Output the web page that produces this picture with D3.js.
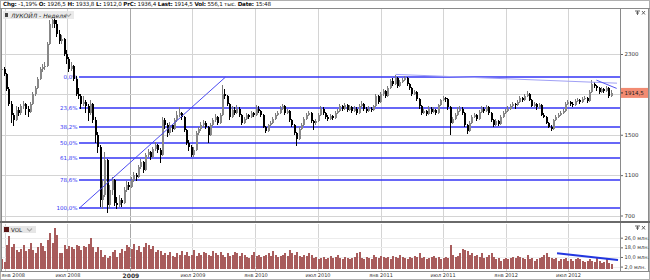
<!DOCTYPE html>
<html>
<head>
<meta charset="utf-8">
<script src="https://cdn.jsdelivr.net/npm/d3@7/dist/d3.min.js"></script>
<style>
  body { margin: 0; background: #fff; }
  svg { display: block; font-family: "DejaVu Sans", Verdana, sans-serif; }
</style>
</head>
<body>
<div id="chart"></div>
<script>
// weekly candles, first week starts 17 Dec 2007
const firstWeek = new Date(2007, 11, 17);

// [open, high, low, close]
const ohlc = [
  // 0
  [2100,2180,2080,2140],[2140,2190,2110,2150],[2150,2170,2080,2100],[2100,2110,1930,1950],[1950,1970,1780,1800],
  [1800,1830,1620,1700],[1700,1720,1590,1650],[1650,1780,1640,1750],[1750,1770,1690,1720],[1720,1800,1700,1780],
  // 10
  [1780,1830,1760,1800],[1800,1810,1700,1760],[1760,1780,1680,1730],[1730,1820,1720,1800],[1800,1920,1790,1900],
  [1900,1980,1880,1960],[1960,2070,1950,2050],[2050,2170,2040,2150],[2150,2200,2120,2170],[2170,2220,2140,2180],
  // 20
  [2180,2420,2170,2400],[2400,2640,2390,2600],[2600,2660,2560,2640],[2640,2670,2560,2600],[2600,2640,2470,2500],
  [2500,2540,2400,2430],[2430,2490,2400,2450],[2450,2460,2280,2300],[2300,2340,2200,2250],[2250,2270,2120,2150],
  // 30
  [2150,2220,2130,2180],[2180,2190,2030,2050],[2050,2080,1880,1900],[1900,1960,1850,1880],[1880,1900,1760,1800],
  [1800,1880,1780,1820],[1820,1840,1720,1780],[1780,1800,1640,1720],[1720,1840,1700,1800],[1800,1810,1620,1650],
  // 40
  [1650,1680,1420,1500],[1500,1530,1315,1380],[1380,1400,780,850],[850,1050,760,900],[900,1330,880,1250],
  [1250,1260,720,800],[800,1000,760,950],[950,1080,900,1050],[1050,1060,790,820],[820,880,760,800],
  // 50
  [800,900,780,850],[850,870,780,820],[820,980,810,950],[950,1040,930,1000],[1000,1030,950,980],
  [980,1080,970,1050],[1050,1130,1030,1100],[1100,1120,1040,1080],[1080,1200,1070,1180],[1180,1260,1160,1230],
  // 60
  [1230,1240,1120,1150],[1150,1320,1140,1300],[1300,1360,1280,1330],[1330,1340,1250,1280],[1280,1380,1270,1360],
  [1360,1430,1340,1400],[1400,1410,1320,1350],[1350,1370,1225,1300],[1300,1680,1290,1650],[1650,1670,1560,1600],
  // 70
  [1600,1620,1480,1520],[1520,1630,1500,1600],[1600,1610,1530,1560],[1560,1670,1550,1650],[1650,1740,1630,1700],
  [1700,1770,1680,1720],[1720,1730,1650,1680],[1680,1690,1530,1550],[1550,1560,1400,1420],[1420,1450,1340,1380],
  // 80
  [1380,1400,1275,1300],[1300,1380,1280,1350],[1350,1540,1340,1520],[1520,1580,1500,1560],[1560,1630,1540,1600],
  [1600,1650,1580,1620],[1620,1640,1560,1580],[1580,1590,1420,1500],[1500,1620,1490,1600],[1600,1670,1590,1650],
  // 90
  [1650,1710,1630,1680],[1680,1690,1600,1620],[1620,1720,1610,1700],[1700,1990,1690,1900],[1900,1950,1850,1880],
  [1880,1890,1780,1800],[1800,1810,1650,1680],[1680,1780,1670,1750],[1750,1770,1700,1720],[1720,1790,1710,1760],
  // 100
  [1760,1770,1680,1700],[1700,1710,1600,1620],[1620,1680,1610,1660],[1660,1720,1650,1700],[1700,1710,1660,1680],
  [1680,1740,1670,1720],[1720,1730,1680,1700],[1700,1790,1690,1760],[1760,1780,1720,1740],[1740,1750,1680,1700],
  // 110
  [1700,1710,1570,1580],[1580,1590,1520,1540],[1540,1610,1530,1600],[1600,1640,1590,1620],[1620,1680,1610,1660],
  [1660,1720,1650,1700],[1700,1740,1690,1720],[1720,1780,1710,1760],[1760,1800,1750,1780],[1780,1790,1700,1720],
  // 120
  [1720,1760,1710,1740],[1740,1750,1630,1650],[1650,1660,1580,1600],[1600,1610,1500,1520],[1520,1530,1390,1460],
  [1460,1580,1450,1560],[1560,1620,1550,1600],[1600,1680,1590,1660],[1660,1720,1650,1700],[1700,1740,1690,1720],
  // 130
  [1720,1730,1620,1640],[1640,1650,1545,1620],[1620,1660,1600,1640],[1640,1720,1630,1700],[1700,1780,1690,1760],
  [1760,1770,1700,1720],[1720,1730,1660,1680],[1680,1700,1640,1660],[1660,1710,1650,1690],[1690,1700,1650,1670],
  // 140
  [1670,1740,1660,1720],[1720,1760,1710,1740],[1740,1800,1730,1780],[1780,1790,1740,1760],[1760,1810,1750,1790],
  [1790,1800,1730,1750],[1750,1790,1740,1770],[1770,1780,1720,1740],[1740,1780,1730,1760],[1760,1770,1700,1720],
  // 150
  [1720,1800,1710,1780],[1780,1830,1770,1800],[1800,1810,1740,1760],[1760,1770,1720,1740],[1740,1780,1730,1760],
  [1760,1770,1730,1750],[1750,1790,1740,1780],[1780,1900,1770,1880],[1880,1890,1800,1820],[1820,1920,1810,1900],
  // 160
  [1900,1950,1880,1930],[1930,1940,1860,1880],[1880,1980,1870,1960],[1960,2050,1950,2030],[2030,2060,1980,2000],
  [2000,2090,1990,2060],[2060,2070,1960,1980],[1980,2040,1970,2020],[2020,2060,2010,2040],[2040,2080,2030,2060],
  // 170
  [2060,2070,1980,2000],[2000,2010,1940,1960],[1960,1970,1880,1900],[1900,1940,1890,1920],[1920,1930,1830,1850],
  [1850,1860,1760,1780],[1780,1790,1700,1720],[1720,1760,1710,1740],[1740,1750,1690,1710],[1710,1780,1700,1760],
  // 180
  [1760,1770,1710,1730],[1730,1770,1720,1750],[1750,1760,1700,1720],[1720,1800,1710,1790],[1790,1850,1780,1840],
  [1840,1880,1830,1860],[1860,1870,1820,1850],[1850,1860,1750,1770],[1770,1780,1495,1620],[1620,1680,1610,1660],
  // 190
  [1660,1720,1650,1700],[1700,1770,1690,1740],[1740,1780,1730,1760],[1760,1770,1700,1720],[1720,1730,1580,1600],
  [1600,1610,1510,1540],[1540,1640,1530,1620],[1620,1700,1610,1680],[1680,1720,1670,1700],[1700,1710,1640,1660],
  // 200
  [1660,1750,1650,1730],[1730,1780,1720,1760],[1760,1770,1720,1740],[1740,1790,1730,1770],[1770,1780,1700,1720],
  [1720,1730,1630,1650],[1650,1660,1580,1600],[1600,1660,1590,1640],[1640,1650,1590,1610],[1610,1700,1600,1680],
  // 210
  [1680,1740,1670,1720],[1720,1760,1710,1740],[1740,1780,1730,1760],[1760,1800,1750,1780],[1780,1820,1770,1800],
  [1800,1810,1760,1790],[1790,1840,1780,1820],[1820,1880,1810,1860],[1860,1870,1820,1840],[1840,1900,1830,1880],
  // 220
  [1880,1930,1870,1900],[1900,1910,1830,1840],[1840,1850,1770,1780],[1780,1820,1770,1800],[1800,1810,1750,1770],
  [1770,1810,1760,1790],[1790,1800,1690,1700],[1700,1720,1670,1680],[1680,1690,1610,1620],[1620,1630,1570,1580],
  // 230
  [1580,1600,1540,1560],[1560,1660,1550,1650],[1650,1700,1640,1680],[1680,1720,1670,1700],[1700,1740,1690,1720],
  [1720,1760,1710,1740],[1740,1820,1730,1800],[1800,1840,1790,1820],[1820,1830,1780,1800],[1800,1820,1770,1790],
  // 240
  [1790,1850,1780,1830],[1830,1860,1820,1840],[1840,1850,1800,1820],[1820,1870,1810,1850],[1850,1880,1840,1860],
  [1860,1870,1810,1830],[1830,1940,1820,1920],[1920,2040,1910,2000],[2000,2020,1960,1980],[1980,1990,1930,1960],
  // 250
  [1960,1970,1900,1920],[1920,1970,1910,1950],[1950,1960,1910,1930],[1930,1980,1920,1960],[1960,1970,1860,1880],
  [1880,1940,1870,1914.5]
];

// weekly volume, млн.
const volumes = [
  13,8,6,20,27,18,21,16,14,17,
  20,15,17,22,16,13,18,22,19,15,
  24,30,22,34,28,13,13,20,17,19,
  18,17,20,19,16,19,18,21,26,18,
  14,18,16,10,12,9,11,14,16,10,
  13,17,15,20,18,17,21,16,19,14,
  18,22,20,17,19,14,16,15,12,13,
  12,14,11,10,13,12,15,12,14,11,
  12,16,11,13,12,14,13,12,11,15,
  13,12,14,12,10,13,11,12,14,13,
  11,13,12,10,9,12,14,11,12,10,
  11,12,13,11,15,12,10,11,12,13,
  11,16,13,12,14,11,10,12,11,13,
  12,9,10,8,9,10,8,9,11,9,
  10,12,9,8,10,9,8,9,10,13,
  14,9,8,10,9,8,12,10,9,11,
  10,9,10,8,11,10,9,12,10,9,
  8,10,9,11,10,13,9,10,8,9,
  10,11,9,10,8,9,10,9,20,12,
  10,11,13,17,16,15,12,13,11,12,
  10,13,9,10,12,13,10,8,9,7,
  8,9,8,9,10,9,11,10,9,8,
  12,8,9,7,8,9,10,12,13,10,
  9,8,9,7,8,8,9,7,8,7,
  8,9,8,7,6,7,8,7,6,9,
  7,5,6,8,5,4
];

const priceTicks = [700, 1100, 1500, 1900, 2300];
const volTicks = [2, 10, 18, 26];
const monthTicks = [
  { date: "2008-01-01", label: "янв 2008" },
  { date: "2008-07-01", label: "июл 2008" },
  { date: "2009-01-01", label: "2009", year: true },
  { date: "2009-07-01", label: "июл 2009" },
  { date: "2010-01-01", label: "янв 2010" },
  { date: "2010-07-01", label: "июл 2010" },
  { date: "2011-01-01", label: "янв 2011" },
  { date: "2011-07-01", label: "июл 2011" },
  { date: "2012-01-01", label: "янв 2012" },
  { date: "2012-07-01", label: "июл 2012" }
];

const fibLevels = [0, 0.236, 0.382, 0.5, 0.618, 0.786, 1];
const fibLabels = ["0,0%", "23,6%", "38,2%", "50,0%", "61,8%", "78,6%", "100,0%"];
const fibAnchor = [{ date: "2008-08-04", price: 770 }, { date: "2009-10-05", price: 2070 }];

const priceLines = [
  { from: ["2011-02-14", 2098], to: ["2012-11-21", 2011], color: "#a0a0f5", width: 1 },
  { from: ["2012-09-22", 2041], to: ["2012-11-20", 1959], color: "#5656ee", width: 1 }
];
const volLine = { from: ["2012-05-30", 13.1], to: ["2012-11-24", 7.5] };

const lastPrice = 1914.5;
const info = [["Chg:", "-1,19%"], ["O:", "1926,5"], ["H:", "1933,8"], ["L:", "1912,0"],
  ["PrC:", "1936,4"], ["Last:", "1914,5"], ["Vol:", "556,1 тыс."], ["Date:", "15:48"]];

const W = 650, H = 280;
const plotL = 2, plotR = 620, mainT = 9, mainB = 221, volT = 224, volB = 271;
const parse = d3.timeParse("%Y-%m-%d");
const comma = v => String(v).replace(".", ",");

const svg = d3.select("#chart").append("svg").attr("width", W).attr("height", H);

const x = d3.scaleTime().domain([parse("2008-01-01"), parse("2012-07-01")]).range([5, 568]);
const y = d3.scaleLinear().domain([700, 2300]).range([215.5, 54]);
const yv = d3.scaleLinear().domain([0, 26]).range([269, 237.7]);

const weeks = ohlc.map((d, i) => ({ date: d3.timeWeek.offset(firstWeek, i), o: d[0], h: d[1], l: d[2], c: d[3], v: volumes[i] }));

const defs = svg.append("defs");
defs.append("clipPath").attr("id", "clipMain").append("rect")
  .attr("x", plotL).attr("y", mainT).attr("width", plotR - plotL).attr("height", mainB - mainT);
defs.append("clipPath").attr("id", "clipVol").append("rect")
  .attr("x", plotL).attr("y", volT).attr("width", plotR - plotL).attr("height", volB - volT);

// grid
const grid = svg.append("g").attr("shape-rendering", "crispEdges");
monthTicks.forEach(t => {
  const gx = Math.round(x(parse(t.date))) + 0.5;
  [[mainT, mainB], [volT, volB]].forEach(r => {
    grid.append("line").attr("x1", gx).attr("x2", gx).attr("y1", r[0]).attr("y2", r[1])
      .attr("stroke", t.year ? "#a8a8a8" : "#d4d4d4");
  });
});
priceTicks.forEach(p => {
  const gy = Math.round(y(p)) + 0.5;
  grid.append("line").attr("x1", plotL).attr("x2", plotR).attr("y1", gy).attr("y2", gy).attr("stroke", "#d4d4d4");
});
volTicks.forEach(v => {
  const gy = Math.round(yv(v)) + 0.5;
  grid.append("line").attr("x1", plotL).attr("x2", plotR).attr("y1", gy).attr("y2", gy).attr("stroke", "#ececec");
});

// fibonacci (behind candles)
const fib = svg.append("g").attr("clip-path", "url(#clipMain)");
const fx0 = x(parse(fibAnchor[0].date)), fx1 = x(parse(fibAnchor[1].date));
const fHigh = fibAnchor[1].price, fLow = fibAnchor[0].price;
fibLevels.forEach((lv, i) => {
  const fy = Math.round(y(fHigh - lv * (fHigh - fLow)));
  fib.append("line").attr("x1", Math.round(fx0)).attr("x2", plotR).attr("y1", fy).attr("y2", fy)
    .attr("stroke", "#3434f4").attr("stroke-width", 1.4);
  fib.append("text").attr("x", fx0 - 1.5).attr("y", fy + 1.5).attr("text-anchor", "end")
    .attr("font-size", 5.5).attr("fill", "#3434f4").text(fibLabels[i]);
});

// candles
const cg = svg.append("g").attr("clip-path", "url(#clipMain)").attr("shape-rendering", "crispEdges");
const candle = cg.selectAll("g.c").data(weeks).join("g").attr("class", "c");
candle.append("line")
  .attr("x1", d => Math.round(x(d.date)) - 0.5).attr("x2", d => Math.round(x(d.date)) - 0.5)
  .attr("y1", d => y(d.h)).attr("y2", d => y(d.l))
  .attr("stroke", d => d.c >= d.o ? "#7a7a7a" : "#000");
candle.append("rect")
  .attr("x", d => Math.round(x(d.date)) - 1).attr("width", 2)
  .attr("y", d => y(Math.max(d.o, d.c)))
  .attr("height", d => Math.max(1, Math.abs(y(d.o) - y(d.c))))
  .attr("fill", d => d.c >= d.o ? "#888" : "#000");

// fib trend line and manual lines
const lines = svg.append("g").attr("clip-path", "url(#clipMain)");
lines.append("line").attr("x1", fx0).attr("y1", y(fLow)).attr("x2", fx1).attr("y2", y(fHigh))
  .attr("stroke", "#4a4af2").attr("stroke-width", 1);
priceLines.forEach(l => {
  lines.append("line")
    .attr("x1", x(parse(l.from[0]))).attr("y1", y(l.from[1]))
    .attr("x2", x(parse(l.to[0]))).attr("y2", y(l.to[1]))
    .attr("stroke", l.color).attr("stroke-width", l.width);
});

// legend box (main), on top of candles
const leg = svg.append("g");
leg.append("rect").attr("x", 3).attr("y", 11).attr("width", 71).attr("height", 8).attr("fill", "#e6e6e6").attr("fill-opacity", 0.85);
leg.append("rect").attr("x", 5).attr("y", 13).attr("width", 3).attr("height", 4).attr("fill", "#444");
leg.append("text").attr("x", 11).attr("y", 17.5).attr("font-size", 6).attr("font-style", "italic").attr("fill", "#222")
  .text("ЛУКОЙЛ - Неделя");
leg.append("path").attr("d", "M66,14 L68.5,16.5 L71,14").attr("fill", "none").attr("stroke", "#aaa").attr("stroke-width", 1.2);

// volume bars
const vg = svg.append("g").attr("clip-path", "url(#clipVol)").attr("shape-rendering", "crispEdges");
vg.selectAll("rect").data(weeks).join("rect")
  .attr("x", d => Math.round(x(d.date)) - 1).attr("width", 2)
  .attr("y", d => yv(d.v)).attr("height", d => yv(0) - yv(d.v))
  .attr("fill", "#a85c5c");
vg.append("line")
  .attr("x1", x(parse(volLine.from[0]))).attr("y1", yv(volLine.from[1]))
  .attr("x2", x(parse(volLine.to[0]))).attr("y2", yv(volLine.to[1]))
  .attr("stroke", "#2236e0").attr("stroke-width", 2).attr("shape-rendering", "auto");

// VOL legend
const vleg = svg.append("g");
vleg.append("rect").attr("x", 3).attr("y", 226).attr("width", 33).attr("height", 7).attr("fill", "#e6e6e6");
vleg.append("rect").attr("x", 4).attr("y", 227).attr("width", 5).attr("height", 5).attr("fill", "#5a1414");
vleg.append("text").attr("x", 11).attr("y", 231.8).attr("font-size", 5.5).attr("fill", "#222").text("VOL");
vleg.append("path").attr("d", "M27,228.5 L29.5,231 L32,228.5").attr("fill", "none").attr("stroke", "#aaa").attr("stroke-width", 1.1);

// frame
const frame = svg.append("g").attr("shape-rendering", "crispEdges").attr("stroke", "#8a8a8a").attr("fill", "none");
frame.append("rect").attr("x", 0.5).attr("y", 0.5).attr("width", W - 1).attr("height", H - 1).attr("stroke", "#b0b0b0");
frame.append("line").attr("x1", 0).attr("x2", W).attr("y1", 8.5).attr("y2", 8.5);
frame.append("line").attr("x1", plotL - 0.5).attr("x2", plotL - 0.5).attr("y1", 8).attr("y2", volB);
frame.append("line").attr("x1", plotR + 0.5).attr("x2", plotR + 0.5).attr("y1", 8).attr("y2", volB);
frame.append("line").attr("x1", W - 1.5).attr("x2", W - 1.5).attr("y1", 8).attr("y2", volB);
frame.append("rect").attr("x", 0).attr("y", mainB).attr("width", W).attr("height", 2).attr("fill", "#6a6a6a").attr("stroke", "none");
frame.append("line").attr("x1", 0).attr("x2", W).attr("y1", volB + 0.5).attr("y2", volB + 0.5);

// price axis (the tick hidden under the last-price tag is left out)
const shownPriceTicks = priceTicks.filter(p => Math.abs(y(p) - y(lastPrice)) > 7);
const pAxis = svg.append("g").attr("transform", `translate(${plotR + 1},0)`)
  .call(d3.axisRight(y).tickValues(shownPriceTicks).tickSize(2).tickPadding(1.5).tickFormat(d => d));
pAxis.select(".domain").remove();
pAxis.selectAll("text").attr("font-size", 5.5).attr("fill", "#333").attr("font-family", "DejaVu Sans, sans-serif");
pAxis.selectAll("line").attr("stroke", "#666");

// last price tag
const lp = svg.append("g");
lp.append("rect").attr("x", plotR + 1).attr("y", y(lastPrice) - 5).attr("width", W - plotR - 3).attr("height", 10).attr("fill", "#f28b72");
lp.append("line").attr("x1", plotR + 1).attr("x2", plotR + 3).attr("y1", y(lastPrice)).attr("y2", y(lastPrice)).attr("stroke", "#333");
lp.append("text").attr("x", plotR + 4.5).attr("y", y(lastPrice) + 2).attr("font-size", 5.5).attr("fill", "#222")
  .text(comma(lastPrice));

// volume axis
const vAxis = svg.append("g").attr("transform", `translate(${plotR + 1},0)`)
  .call(d3.axisRight(yv).tickValues(volTicks).tickSize(2).tickPadding(1.5)
    .tickFormat(d => d3.format(".1f")(d).replace(".", ",") + " млн."));
vAxis.select(".domain").remove();
vAxis.selectAll("text").attr("font-size", 5).attr("fill", "#333").attr("font-family", "DejaVu Sans, sans-serif");
vAxis.selectAll("line").attr("stroke", "#666");

// time axis
const tAxis = svg.append("g").attr("transform", `translate(0,${volB})`)
  .call(d3.axisBottom(x).tickValues(monthTicks.map(t => parse(t.date))).tickSize(0).tickPadding(2.5)
    .tickFormat((d, i) => monthTicks[i].label));
tAxis.select(".domain").remove();
tAxis.selectAll("text").attr("fill", "#333").attr("font-family", "DejaVu Sans, sans-serif")
  .attr("font-weight", (d, i) => monthTicks[i].year ? "bold" : null)
  .attr("font-size", (d, i) => monthTicks[i].year ? 6 : 5)
  .attr("text-anchor", (d, i) => i === 0 ? "start" : "middle")
  .attr("x", (d, i) => i === 0 ? 1 - x(d) : 0);

// icons top right
[[636, 11], [636, 226]].forEach(p => {
  const ic = svg.append("g").attr("stroke", "#555").attr("stroke-width", 0.9).attr("fill", "none");
  ic.append("path").attr("d", `M${p[0] - 1},${p[1]} h5 M${p[0] + 1.5},${p[1]} v4 M${p[0]},${p[1] + 2} h3`);
  ic.append("path").attr("d", `M${p[0] + 6},${p[1]} l3,3.5 M${p[0] + 9},${p[1]} l-3,3.5`);
});

// info bar
const infoText = svg.append("text").attr("x", 3).attr("y", 6.3).attr("font-size", 5.6).attr("fill", "#111")
  .attr("textLength", 268).attr("lengthAdjust", "spacing");
info.forEach((d, i) => {
  infoText.append("tspan").attr("font-weight", "bold").text((i ? "  " : "") + d[0] + " ");
  infoText.append("tspan").text(d[1]);
});
</script>
</body>
</html>
